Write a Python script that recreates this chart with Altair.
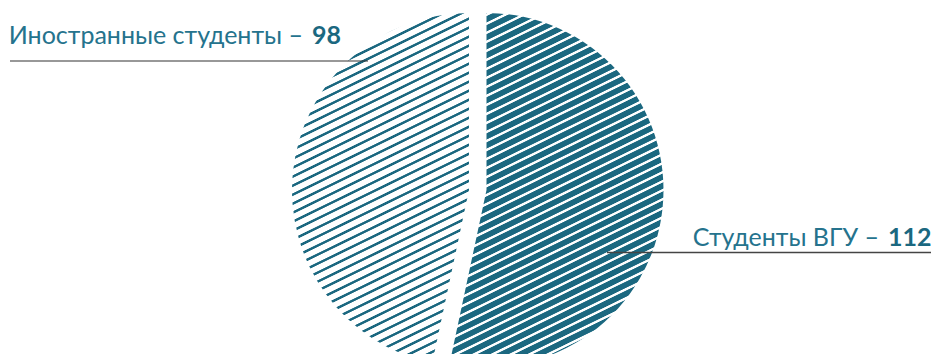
import math
import altair as alt
import pandas as pd

# ---- data ----
categories = ["Студенты ВГУ", "Иностранные студенты"]
values = [112, 98]
order = [0, 1]

df = pd.DataFrame({"category": categories, "value": values, "order": order})

# ---- style ----
TEAL = "#1b6880"
TEXT = "#25738d"
R = 177
CX_DARK, CX_LIGHT, CY = 478.5, 461.0, 182.0
FONT = "Lato"
FS = 25


def arc_bbox(a0, a1, r):
    pts = [(0.0, 0.0)]
    angs = [a0, a1] + [k * math.pi / 2 for k in range(0, 5) if a0 < k * math.pi / 2 < a1]
    for a in angs:
        pts.append((r * math.sin(a), -r * math.cos(a)))
    xs = [p[0] for p in pts]
    ys = [p[1] for p in pts]
    return max(xs) - min(xs), max(ys) - min(ys)


def hatch(a0, a1, r, base, stripe, period, width, alpha_deg, phase=0.0, ramp=0.7):
    W, H = arc_bbox(a0, a1, r)
    s, c = math.sin(math.radians(alpha_deg)), math.cos(math.radians(alpha_deg))
    D = W * s + H * c
    k = D / (W * W * s * s + H * H * c * c)
    x2, y2 = k * W * s, k * H * c
    stops = [{"offset": 0, "color": base}]
    t = phase
    while t + width + 2 * ramp < D:
        a = t / D
        b = (t + ramp) / D
        cc = (t + ramp + width) / D
        d = (t + 2 * ramp + width) / D
        stops += [
            {"offset": round(a, 5), "color": base},
            {"offset": round(b, 5), "color": stripe},
            {"offset": round(cc, 5), "color": stripe},
            {"offset": round(d, 5), "color": base},
        ]
        t += period
    stops.append({"offset": 1, "color": base})
    return {"gradient": "linear", "x1": 0, "y1": 0, "x2": x2, "y2": y2, "stops": stops}


total = sum(values)
a_split = values[0] / total * 2 * math.pi
grad_dark = hatch(0, a_split, R, TEAL, "#ffffff", 8.1, 1.7, 26)
grad_light = hatch(a_split, 2 * math.pi, R, "#ffffff", TEAL, 8.1, 1.8, 26)

base = (
    alt.Chart(df)
    .transform_joinaggregate(total="sum(value)")
    .transform_window(cum="sum(value)", sort=[alt.SortField("order")])
    .transform_calculate(
        t1="(datum.cum - datum.value) / datum.total * 2 * PI",
        t2="datum.cum / datum.total * 2 * PI",
    )
)

dark = base.transform_filter("datum.order == 0").mark_arc(
    x=CX_DARK, y=CY, radius=R, fill=grad_dark
).encode(theta=alt.Theta("t1:Q", scale=None), theta2="t2:Q")

light = base.transform_filter("datum.order == 1").mark_arc(
    x=CX_LIGHT, y=CY, radius=R, fill=grad_light
).encode(theta=alt.Theta("t1:Q", scale=None), theta2="t2:Q")

rule_left = base.transform_filter("datum.order == 1").mark_rule(
    color="#333333", strokeWidth=1.2
).encode(x=alt.value(2), x2=alt.value(360), y=alt.value(53))

rule_right = base.transform_filter("datum.order == 0").mark_rule(
    color="#444444", strokeWidth=1.5
).encode(x=alt.value(599), x2=alt.value(923), y=alt.value(244.5))

lbl_left = base.transform_filter("datum.order == 1").transform_calculate(
    lab="datum.category + ' –'"
).mark_text(font=FONT, fontSize=FS, color=TEXT, align="right", baseline="alphabetic").encode(
    x=alt.value(295), y=alt.value(36), text="lab:N"
)
num_left = base.transform_filter("datum.order == 1").mark_text(
    font=FONT, fontSize=FS, fontWeight="bold", color=TEAL, align="left", baseline="alphabetic"
).encode(x=alt.value(304), y=alt.value(36), text="value:N")

lbl_right = base.transform_filter("datum.order == 0").transform_calculate(
    lab="datum.category + ' –'"
).mark_text(font=FONT, fontSize=FS, color=TEXT, align="right", baseline="alphabetic").encode(
    x=alt.value(871), y=alt.value(237.5), text="lab:N"
)
num_right = base.transform_filter("datum.order == 0").mark_text(
    font=FONT, fontSize=FS, fontWeight="bold", color=TEAL, align="left", baseline="alphabetic"
).encode(x=alt.value(880), y=alt.value(237.5), text="value:N")

chart = (
    alt.layer(dark, light, rule_left, rule_right, lbl_left, num_left, lbl_right, num_right)
    .properties(width=923, height=346, autosize="none", padding=0)
    .configure_view(stroke=None)
)

chart.save("out.html", embed_options={"renderer": "svg", "actions": False})
